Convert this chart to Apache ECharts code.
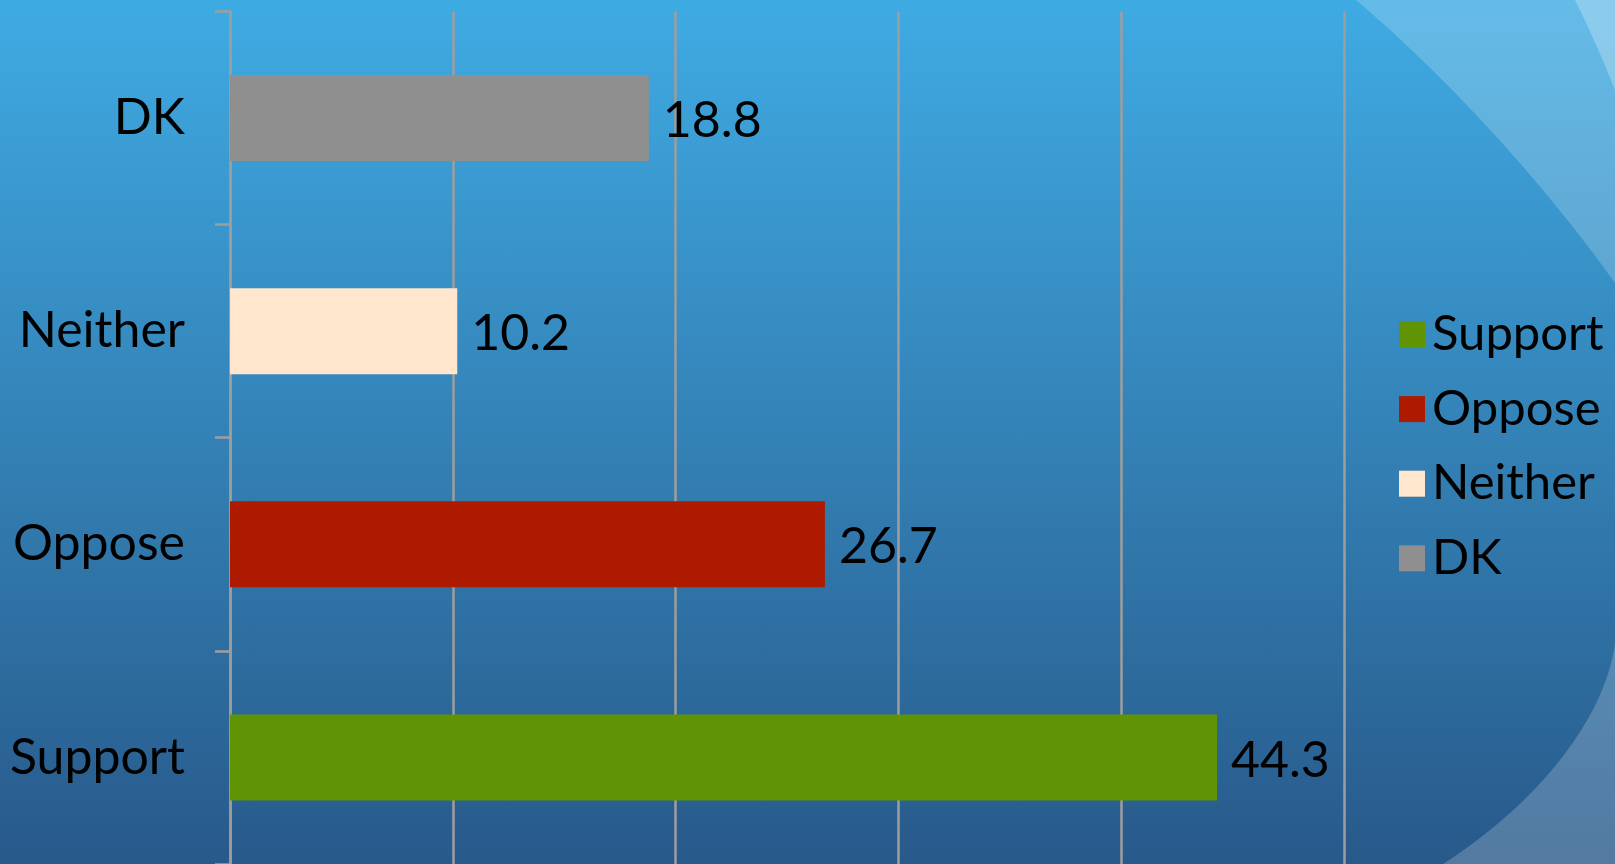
<!DOCTYPE html>
<html>
<head>
<meta charset="utf-8">
<script src="https://cdn.jsdelivr.net/npm/echarts@6/dist/echarts.min.js"></script>
<style>
  html, body { margin: 0; padding: 0; width: 1615px; height: 864px; overflow: hidden;
    background: linear-gradient(to bottom, #3fabe3 0%, #28598a 100%); }
  #chart { width: 1615px; height: 864px; }
</style>
</head>
<body>
<div id="chart"></div>
<script>
// Data
var categories = ['Support', 'Oppose', 'Neither', 'DK'];
var values = [44.3, 26.7, 10.2, 18.8];
var barColors = ['#609405', '#ad1a00', '#ffe6cc', '#8f8f8f'];
var legendOrder = ['Support', 'Oppose', 'Neither', 'DK'];
var axisMin = 0, axisMax = 50, axisInterval = 10;

var FONT = 'Lato';
var LINE = '#9e9e9e';

// background decoration (theme swooshes), sampled cubic curves
function bezierPoly(p0, p1, p2, p3, closing) {
  var pts = [];
  for (var k = 0; k <= 40; k++) {
    var t = k / 40, u = 1 - t;
    pts.push([
      u*u*u*p0[0] + 3*u*u*t*p1[0] + 3*u*t*t*p2[0] + t*t*t*p3[0],
      u*u*u*p0[1] + 3*u*u*t*p1[1] + 3*u*t*t*p2[1] + t*t*t*p3[1]
    ]);
  }
  return pts.concat(closing);
}
var deco1 = bezierPoly([1356, 0], [1450, 80], [1545, 185], [1615, 283], [[1615, 0]]);
var deco2 = bezierPoly([1575, 0], [1590, 30], [1603, 60], [1615, 90], [[1615, 0]]);
var deco3 = bezierPoly([1615, 643], [1605, 720], [1535, 805], [1443, 864], [[1615, 864]]);

var series = categories.map(function (name, i) {
  return {
    name: name,
    type: 'bar',
    barWidth: 86,
    barGap: '-100%',
    itemStyle: { color: barColors[i] },
    label: {
      show: true,
      position: 'right',
      distance: 14,
      offset: [0, 3],
      fontFamily: FONT,
      fontSize: 50,
      color: '#000'
    },
    data: categories.map(function (c, j) { return j === i ? values[j] : null; })
  };
});

var chart = echarts.init(document.getElementById('chart'));
chart.setOption({
  animation: false,
  backgroundColor: 'transparent',
  textStyle: { fontFamily: FONT },
  graphic: [
    { type: 'polygon', z: 0, silent: true, shape: { points: deco1 }, style: { fill: 'rgba(255,255,255,0.2)' } },
    { type: 'polygon', z: 0, silent: true, shape: { points: deco2 }, style: { fill: 'rgba(255,255,255,0.25)' } },
    { type: 'polygon', z: 0, silent: true, shape: { points: deco3 }, style: { fill: 'rgba(255,255,255,0.2)' } }
  ],
  grid: { left: 230, right: 271, top: 11.4, height: 854.6, containLabel: false },
  legend: {
    data: legendOrder,
    orient: 'vertical',
    left: 1394,
    top: 305,
    itemWidth: 26,
    itemHeight: 26,
    itemGap: 25.6,
    icon: 'rect',
    textStyle: { fontFamily: FONT, fontSize: 49, lineHeight: 48, color: '#000', padding: [0, 0, 0, 2] }
  },
  xAxis: {
    type: 'value',
    min: axisMin, max: axisMax, interval: axisInterval,
    axisLine: { show: false },
    axisTick: { show: false },
    axisLabel: { show: false },
    splitLine: { show: true, lineStyle: { color: LINE, width: 2.5 } }
  },
  yAxis: {
    type: 'category',
    data: categories,
    axisLine: { show: true, lineStyle: { color: LINE, width: 2.5 } },
    axisTick: { show: true, length: 15, lineStyle: { color: LINE, width: 2.5 } },
    axisLabel: { fontFamily: FONT, fontSize: 50, color: '#000', margin: 45 },
    splitLine: { show: false }
  },
  series: series
});
</script>
</body>
</html>
